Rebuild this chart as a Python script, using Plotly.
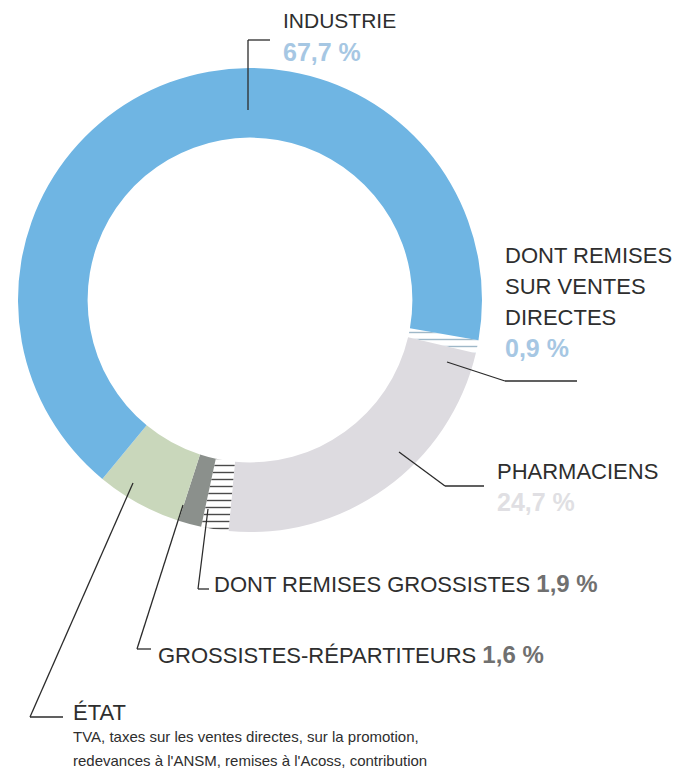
import plotly.graph_objects as go

# --- data ---
slice_labels = ["Dont remises sur ventes directes", "Pharmaciens (hors remises)",
                "Dont remises grossistes", "Grossistes-répartiteurs", "État", "Industrie (hors remises)"]
industrie_total = 67.7
remises_ventes_directes = 0.9
pharmaciens_total = 24.7
remises_grossistes = 1.9
grossistes = 1.6
etat = 6.0
slice_values = [remises_ventes_directes, pharmaciens_total - remises_grossistes,
                remises_grossistes, grossistes, etat, industrie_total - remises_ventes_directes]
slice_colors = ["#ffffff", "#dddbe0", "#ffffff", "#8b908c", "#c9d7bb", "#6fb5e3"]

W, H = 679, 778
cx, cy, R = 250, 300, 232

fig = go.Figure()
fig.add_trace(go.Pie(
    labels=slice_labels, values=slice_values, sort=False, direction="clockwise",
    rotation=100, hole=0.70, textinfo="none", hoverinfo="label+value",
    showlegend=False,
    marker=dict(colors=slice_colors, line=dict(width=0),
                pattern=dict(shape=["-", "", "-", "", "", ""],
                             fgcolor=["#9fb8c8", "#000", "#4a4a4a", "#000", "#000", "#000"],
                             bgcolor=["#ffffff", "#dddbe0", "#ffffff", "#8b908c", "#c9d7bb", "#6fb5e3"],
                             size=7, solidity=0.2)),
    domain=dict(x=[(cx - R) / W, (cx + R) / W], y=[1 - (cy + R) / H, 1 - (cy - R) / H]),
))

def px(x):
    return x / W

def py(y):
    return 1 - y / H

shapes = []
def polyline(pts):
    for (x0, y0), (x1, y1) in zip(pts[:-1], pts[1:]):
        shapes.append(dict(type="line", xref="paper", yref="paper",
                           x0=px(x0), y0=py(y0), x1=px(x1), y1=py(y1),
                           line=dict(color="#2b2b2b", width=1.3)))

polyline([(248, 110), (248, 40), (270, 40)])
polyline([(447, 362), (505, 381), (577, 381)])
polyline([(399, 452), (445, 486), (484, 486)])
polyline([(208, 509), (198, 589), (209, 589)])
polyline([(183, 505), (137, 649), (151, 649)])
polyline([(133, 483), (30, 717), (63, 717)])

FONT = "Liberation Sans, Arial, sans-serif"
DARK = "#2e2e2e"
BLUE_T = "#a6c7e3"
GRAY_T = "#e0dfe3"
MID_T = "#707070"

def pct(v):
    return f"{v:.1f}".replace(".", ",") + " %"

annotations = []
def text(x, y, s, size=22, color=DARK):
    annotations.append(dict(xref="paper", yref="paper", x=px(x), y=py(y), text=s,
                            showarrow=False, xanchor="left", yanchor="middle",
                            font=dict(family=FONT, size=size, color=color)))

text(281, 20, "INDUSTRIE", 21)
text(281, 52, f"<b>{pct(industrie_total)}</b>", 25, BLUE_T)
text(503, 256, "DONT REMISES", 22)
text(503, 287, "SUR VENTES", 22)
text(503, 317, "DIRECTES", 22)
text(503, 348, f"<b>{pct(remises_ventes_directes)}</b>", 25, BLUE_T)
text(495, 471, "PHARMACIENS", 22)
text(495, 502, f"<b>{pct(pharmaciens_total)}</b>", 25, GRAY_T)
text(212, 583, "DONT REMISES GROSSISTES "
     + f"<b><span style='color:{MID_T};font-size:24px'>{pct(remises_grossistes)}</span></b>", 22)
text(156, 654, "GROSSISTES-RÉPARTITEURS "
     + f"<b><span style='color:{MID_T};font-size:24px'>{pct(grossistes)}</span></b>", 22)
text(71, 712, "ÉTAT", 22)
text(71, 736, "TVA, taxes sur les ventes directes, sur la promotion,", 15)
text(71, 760, "redevances à l'ANSM, remises à l'Acoss, contribution", 15)

fig.update_layout(width=W, height=H, margin=dict(l=0, r=0, t=0, b=0),
                  paper_bgcolor="white", plot_bgcolor="white",
                  shapes=shapes, annotations=annotations)
fig.write_html("out.html")
